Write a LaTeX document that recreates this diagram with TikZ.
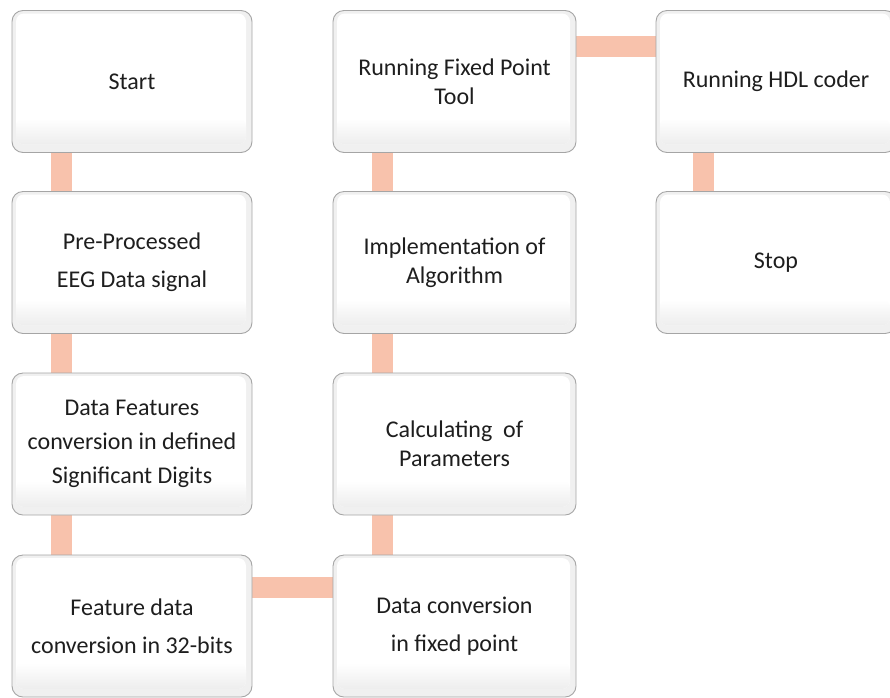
\documentclass[tikz,border=0pt]{standalone}
\usepackage{fontspec}
\setmainfont{Carlito}
\usetikzlibrary{calc,backgrounds}

\definecolor{linkfill}{RGB}{248,194,172}
\definecolor{rimgray}{RGB}{165,165,165}
\definecolor{textgray}{RGB}{30,30,30}

\newcommand{\boxfont}{\fontsize{24}{29}\selectfont}

\tikzset{
  stepbox/.style={
    rectangle, rounded corners=11pt,
    minimum width=240pt, minimum height=142pt,
    inner sep=0pt, align=center,
    draw=rimgray, line width=0.9pt, fill=gray!12,
    text=textgray, font=\boxfont,
    path picture={
      % bevelled face: white top, faint grey toward the lower edge
      \fill[white, rounded corners=8pt]
        ([shift={(4pt,-3pt)}]path picture bounding box.north west) rectangle
        ([shift={(-6pt,8pt)}]path picture bounding box.south east);
      \shade[top color=white, bottom color=gray!14, rounded corners=8pt]
        ([shift={(4pt,34pt)}]path picture bounding box.south west) rectangle
        ([shift={(-6pt,8pt)}]path picture bounding box.south east);
    }
  },
  link/.style={draw=linkfill, line width=21pt}
}

\begin{document}
\begin{tikzpicture}[x=1pt, y=-1pt]
  \useasboundingbox (0,0) rectangle (890,697);

  % first column
  \node[stepbox] (start) at (132,81.5) {Start};
  \node[stepbox] (pre)   at (132,262.5) {Pre-Processed\\[9pt]EEG Data signal};
  \node[stepbox] (feat)  at (132,444) {Data Features\\[5pt]conversion in defined\\[5pt]Significant Digits};
  \node[stepbox] (bits)  at (132,626) {Feature data\\[9pt]conversion in 32-bits};

  % second column
  \node[stepbox, minimum width=243pt] (fixtool) at (454.5,81.5) {Running Fixed Point\\Tool};
  \node[stepbox, minimum width=243pt] (impl)    at (454.5,262.5) {Implementation of\\Algorithm};
  \node[stepbox, minimum width=243pt] (calc)    at (454.5,444) {Calculating\ \ of\\Parameters};
  \node[stepbox, minimum width=243pt] (fixconv) at (454.5,626) {Data conversion\\[9pt]in fixed point};

  % third column
  \node[stepbox] (hdl)  at (776,81.5) {Running HDL coder};
  \node[stepbox] (stop) at (776,262.5) {Stop};

  % connectors, drawn behind the boxes
  \begin{scope}[on background layer]
    \draw[link] ($(start.south west)+(49.5,0)$) -- ($(pre.north west)+(49.5,0)$);
    \draw[link] ($(pre.south west)+(49.5,0)$) -- ($(feat.north west)+(49.5,0)$);
    \draw[link] ($(feat.south west)+(49.5,0)$) -- ($(bits.north west)+(49.5,0)$);
    \draw[link] ($(bits.north east)+(0,33)$) -- ($(fixconv.north west)+(0,33)$);
    \draw[link] ($(fixconv.north west)+(49.5,0)$) -- ($(calc.south west)+(49.5,0)$);
    \draw[link] ($(calc.north west)+(49.5,0)$) -- ($(impl.south west)+(49.5,0)$);
    \draw[link] ($(impl.north west)+(49.5,0)$) -- ($(fixtool.south west)+(49.5,0)$);
    \draw[link] ($(fixtool.north east)+(0,36)$) -- ($(hdl.north west)+(0,36)$);
    \draw[link] ($(hdl.south west)+(48,0)$) -- ($(stop.north west)+(48,0)$);
  \end{scope}
\end{tikzpicture}
\end{document}
